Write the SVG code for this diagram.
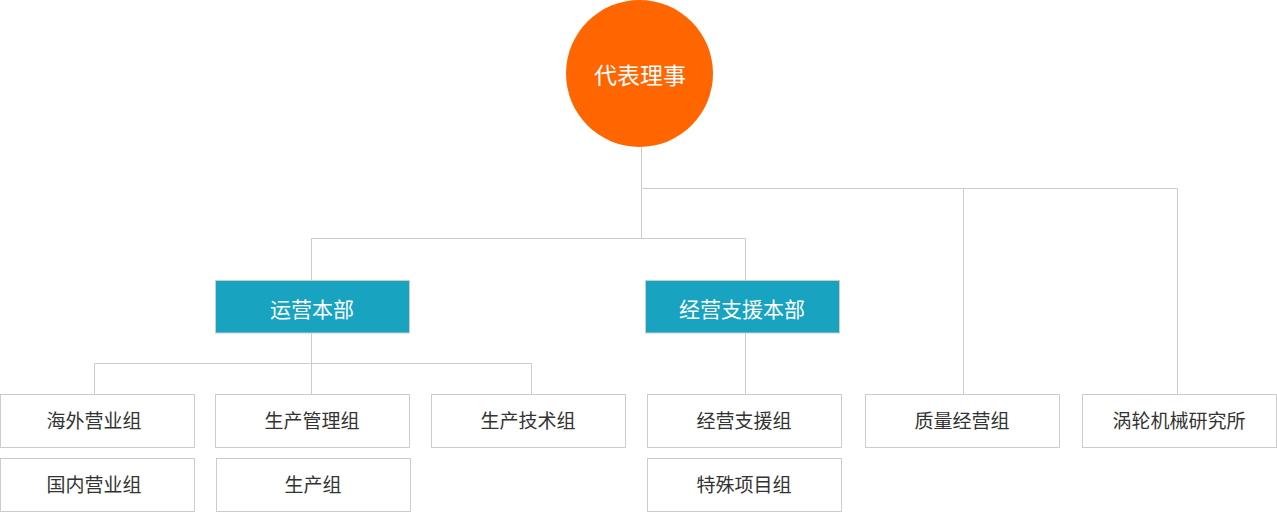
<svg xmlns="http://www.w3.org/2000/svg" width="1277" height="512" viewBox="0 0 1277 512">
<style>
.ln{stroke:#cccccc;stroke-width:1;fill:none}
.box{fill:#ffffff;stroke:#cccccc;stroke-width:1}
.dep{fill:#18a3c1;stroke:#cccccc;stroke-width:1}
.t{font-family:"Noto Sans CJK SC","Noto Sans",sans-serif;font-size:19px;fill:#333333;text-anchor:middle}
.td{font-family:"Noto Sans CJK SC","Noto Sans",sans-serif;font-size:21px;fill:#ffffff;text-anchor:middle}
.tc{font-family:"Noto Sans CJK SC","Noto Sans",sans-serif;font-size:23px;fill:#ffffff;text-anchor:middle}
</style>
<rect width="1277" height="512" fill="#ffffff"/>
<g id="connectors">
<path class="ln" d="M641.5 147V238.5M311.5 238.5H745.5M642.5 188.5H1177.5M311.5 238.5V280M745.5 238.5V280M963.5 188.5V394M1177.5 188.5V394"/>
<path class="ln" d="M311.5 333V394M94.5 363.5H531.5M94.5 363.5V394M531.5 363.5V394M745.5 333V394"/>
</g>
<g id="n-ceo">
<circle cx="639.5" cy="73.5" r="73.5" fill="#ff6600"/>
<text class="tc" x="640" y="83.5">代表理事</text>
</g>
<g id="n-ops">
<rect class="dep" x="215.5" y="280.5" width="194" height="52.5"/>
<text class="td" x="312" y="316.5">运营本部</text>
</g>
<g id="n-support">
<rect class="dep" x="645.5" y="280.5" width="194" height="52.5"/>
<text class="td" x="742" y="316.5">经营支援本部</text>
</g>
<g id="n-overseas">
<rect class="box" x="0.5" y="394.5" width="194" height="53"/>
<text class="t" x="94" y="428">海外营业组</text>
</g>
<g id="n-domestic">
<rect class="box" x="0.5" y="458.5" width="194" height="53"/>
<text class="t" x="94" y="491.5">国内营业组</text>
</g>
<g id="n-prodmgmt">
<rect class="box" x="215.5" y="394.5" width="194" height="53"/>
<text class="t" x="312" y="428">生产管理组</text>
</g>
<g id="n-prod">
<rect class="box" x="216.5" y="458.5" width="194" height="53"/>
<text class="t" x="313" y="491.5">生产组</text>
</g>
<g id="n-prodtech">
<rect class="box" x="431.5" y="394.5" width="194" height="53"/>
<text class="t" x="528" y="428">生产技术组</text>
</g>
<g id="n-supportgrp">
<rect class="box" x="647.5" y="394.5" width="194" height="53"/>
<text class="t" x="744" y="428">经营支援组</text>
</g>
<g id="n-special">
<rect class="box" x="647.5" y="458.5" width="194" height="53"/>
<text class="t" x="744" y="491.5">特殊项目组</text>
</g>
<g id="n-quality">
<rect class="box" x="865.5" y="394.5" width="194" height="53"/>
<text class="t" x="962" y="428">质量经营组</text>
</g>
<g id="n-turbo">
<rect class="box" x="1082.5" y="394.5" width="194" height="53"/>
<text class="t" x="1179" y="428">涡轮机械研究所</text>
</g>
</svg>
